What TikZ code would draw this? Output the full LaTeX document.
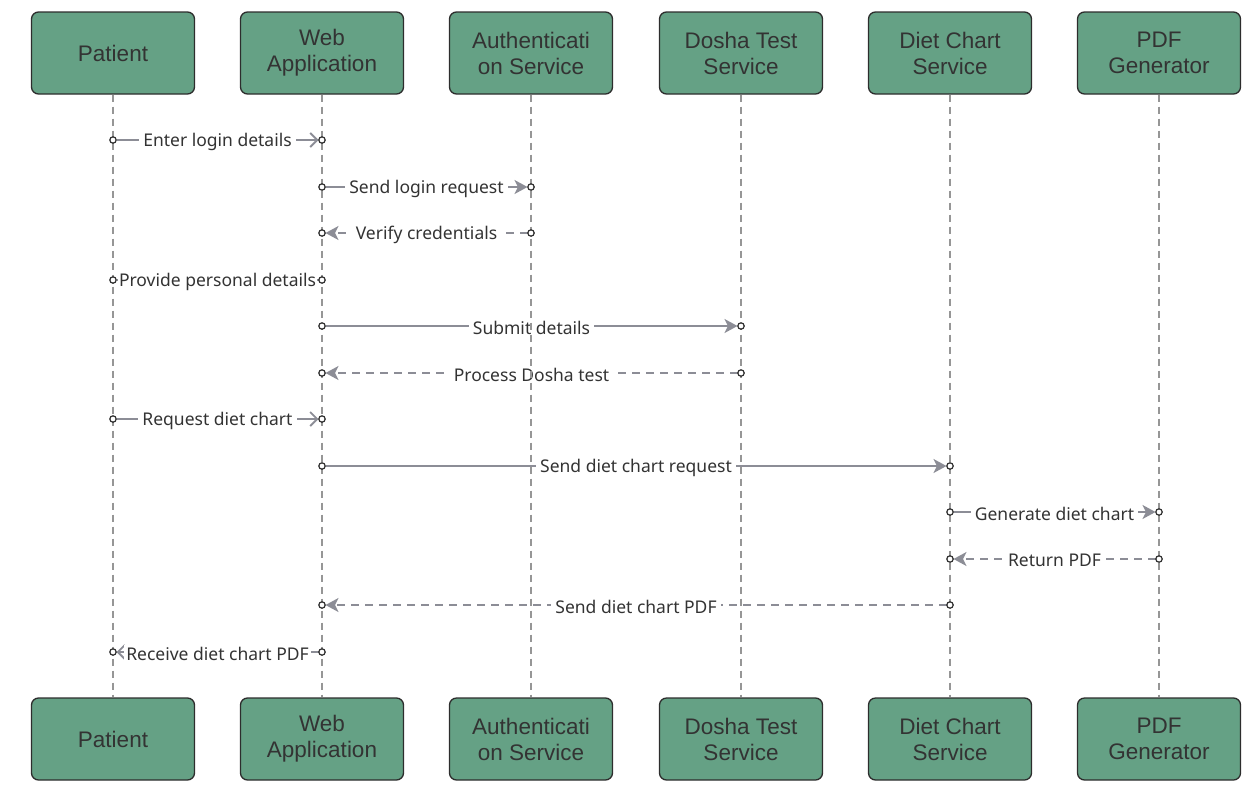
\documentclass[tikz,border=0pt]{standalone}
\usepackage{fontspec}
\newfontfamily\boxfont{Liberation Sans}
\newfontfamily\msgfont{Noto Sans}
\usetikzlibrary{arrows.meta}
\definecolor{boxgreen}{RGB}{101,161,133}
\definecolor{boxline}{RGB}{45,45,45}
\definecolor{inkgray}{RGB}{51,51,51}
\definecolor{msggray}{RGB}{140,141,150}
\definecolor{lifegray}{RGB}{150,150,150}

\begin{document}
\begin{tikzpicture}[x=1pt,y=-1pt,line cap=butt,
  actor/.style={draw=boxline,line width=1.3pt,fill=boxgreen,rounded corners=7pt,minimum width=163pt,minimum height=82pt,text=inkgray,align=center,font=\boxfont\fontsize{22.5}{26}\selectfont},
  life/.style={lifegray,line width=1.4pt,dash pattern=on 7pt off 5pt},
  msg/.style={msggray,line width=1.8pt,shorten <=3.5pt,shorten >=3.5pt},
  reply/.style={msg,dash pattern=on 8pt off 6pt},
  tipf/.style={-{Stealth[length=13pt,width=14pt,inset=3.5pt]}},
  tipo/.style={-{Straight Barb[length=7pt,width=14pt]}},
  lbl/.style={fill=white,inner xsep=4pt,inner ysep=1.5pt,yshift=-1.5pt,text=inkgray,font=\msgfont\fontsize{17.5}{20}\selectfont},
  dot/.style={draw=boxline,fill=white,line width=1.2pt}]
		\useasboundingbox (0,0) rectangle (1255,790);
		% participants, top row
		\node[actor] (patT) at (113,53) {Patient};
		\node[actor] (webT) at (322,53) {Web\\Application};
		\node[actor] (authT) at (531,53) {Authenticati\\on Service};
		\node[actor] (doshaT) at (741,53) {Dosha Test\\Service};
		\node[actor] (dietT) at (950,53) {Diet Chart\\Service};
		\node[actor] (pdfT) at (1159,53) {PDF\\Generator};
		% participants, bottom row
		\node[actor] (patB) at (113,739) {Patient};
		\node[actor] (webB) at (322,739) {Web\\Application};
		\node[actor] (authB) at (531,739) {Authenticati\\on Service};
		\node[actor] (doshaB) at (741,739) {Dosha Test\\Service};
		\node[actor] (dietB) at (950,739) {Diet Chart\\Service};
		\node[actor] (pdfB) at (1159,739) {PDF\\Generator};
		% message end points
		\coordinate (m1a) at (113,140); \coordinate (m1b) at (322,140);
		\coordinate (m2a) at (322,187); \coordinate (m2b) at (531,187);
		\coordinate (m3a) at (531,233); \coordinate (m3b) at (322,233);
		\coordinate (m4a) at (113,280); \coordinate (m4b) at (322,280);
		\coordinate (m5a) at (322,326); \coordinate (m5b) at (741,326);
		\coordinate (m6a) at (741,373); \coordinate (m6b) at (322,373);
		\coordinate (m7a) at (113,419); \coordinate (m7b) at (322,419);
		\coordinate (m8a) at (322,466); \coordinate (m8b) at (950,466);
		\coordinate (m9a) at (950,512); \coordinate (m9b) at (1159,512);
		\coordinate (m10a) at (1159,559); \coordinate (m10b) at (950,559);
		\coordinate (m11a) at (950,605); \coordinate (m11b) at (322,605);
		\coordinate (m12a) at (322,652); \coordinate (m12b) at (113,652);
		% messages
		\draw[msg,tipo] (m1a) -- node[lbl] {Enter login details} (m1b);
		\draw[msg,tipf] (m2a) -- node[lbl] {Send login request} (m2b);
		\draw[reply,tipf] (m3a) -- node[lbl] {Verify credentials} (m3b);
		\draw[msg] (m4a) -- node[lbl,inner xsep=1pt] {Provide personal details} (m4b);
		\draw[msg,tipf] (m5a) -- node[lbl] {Submit details} (m5b);
		\draw[reply,tipf] (m6a) -- node[lbl] {Process Dosha test} (m6b);
		\draw[msg,tipo] (m7a) -- node[lbl] {Request diet chart} (m7b);
		\draw[msg,tipf] (m8a) -- node[lbl] {Send diet chart request} (m8b);
		\draw[msg,tipf] (m9a) -- node[lbl] {Generate diet chart} (m9b);
		\draw[reply,tipf] (m10a) -- node[lbl] {Return PDF} (m10b);
		\draw[reply,tipf] (m11a) -- node[lbl] {Send diet chart PDF} (m11b);
		\draw[msg,tipo] (m12a) -- node[lbl,inner xsep=2pt] {Receive diet chart PDF} (m12b);
		% lifelines
		\draw[life] (patT.south) -- (patB.north);
		\draw[life] (webT.south) -- (webB.north);
		\draw[life] (authT.south) -- (authB.north);
		\draw[life] (doshaT.south) -- (doshaB.north);
		\draw[life] (dietT.south) -- (dietB.north);
		\draw[life] (pdfT.south) -- (pdfB.north);
		% end point circles
		\foreach \p in {m1a,m1b,m2a,m2b,m3a,m3b,m4a,m4b,m5a,m5b,m6a,m6b,m7a,m7b,m8a,m8b,m9a,m9b,m10a,m10b,m11a,m11b,m12a,m12b}
			\draw[dot] (\p) circle (3.2pt);
\end{tikzpicture}
\end{document}
